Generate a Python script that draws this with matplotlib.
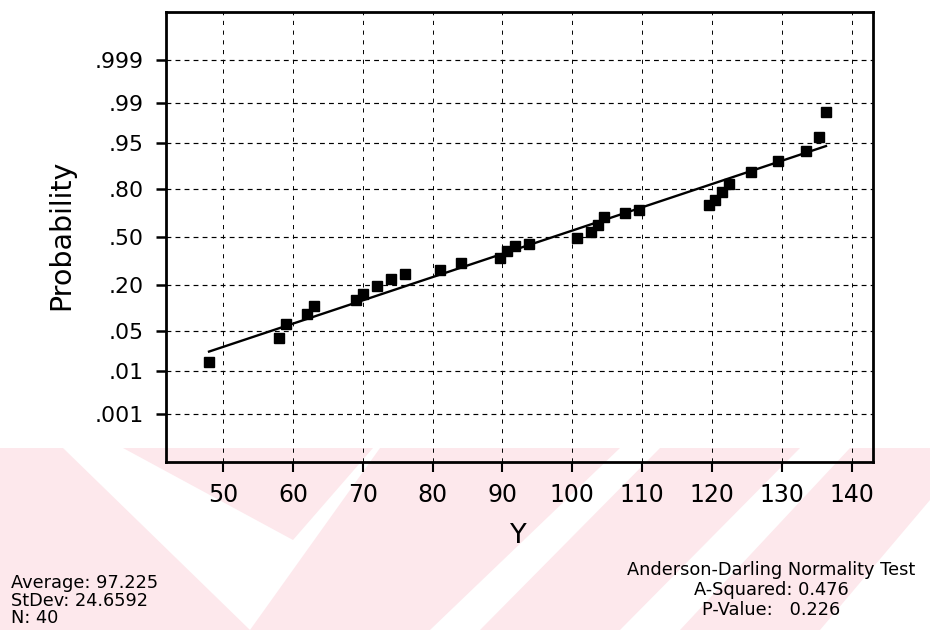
import numpy as np
import matplotlib
matplotlib.use("Agg")
import matplotlib.pyplot as plt
from matplotlib.patches import Polygon
from statistics import NormalDist

# ---- data ----
y_values = [48, 58, 59, 62, 63, 69, 70, 72, 74, 76, 81, 84, 89.7, 90.7, 91.8, 93.8,
            100.7, 102.6, 103.7, 104.5, 107.5, 109.6, 119.6, 120.4, 121.4, 122.4,
            125.5, 129.4, 133.5, 135.3, 136.3]
prob_pct = [1.46, 3.9, 6.4, 9.1, 11.3, 13.7, 16.2, 19.6, 23.4, 25.8, 28.5, 32.5, 35.9,
            40.1, 43.8, 45.4, 49.6, 53.5, 58.3, 63.3, 65.9, 68.4, 71.0, 74.3, 78.1,
            82.1, 87.0, 90.7, 93.3, 96.0, 98.5]
prob_ticks = [0.001, 0.01, 0.05, 0.20, 0.50, 0.80, 0.95, 0.99, 0.999]
prob_tick_labels = [".001", ".01", ".05", ".20", ".50", ".80", ".95", ".99", ".999"]
x_ticks = [50, 60, 70, 80, 90, 100, 110, 120, 130, 140]
average = 97.225
stdev = 24.6592
n_obs = 40
a_squared = 0.476
p_value = 0.226

nd = NormalDist()
def to_z(p):
    return np.array([nd.inv_cdf(v) for v in np.atleast_1d(p)])

W, H = 930, 630
plt.rcParams['lines.scale_dashes'] = False
fig = plt.figure(figsize=(W / 100, H / 100), dpi=100)

# ---- watermark (light pink stripes, drawn behind everything) ----
pink = "#fde8ec"
def fpoly(pts):
    return Polygon([(x / W, 1 - y / H) for x, y in pts], closed=True,
                   transform=fig.transFigure, facecolor=pink, edgecolor='none', zorder=-5)
wm = [
    [(0, 448), (63, 448), (250, 630), (0, 630)],
    [(123, 448), (373, 448), (293, 540)],
    [(380, 448), (620, 448), (430, 630), (250, 630)],
    [(660, 448), (800, 448), (620, 630), (480, 630)],
    [(850, 448), (930, 448), (930, 500), (820, 630), (680, 630)],
]
for pts in wm:
    fig.patches.append(fpoly(pts))

# ---- axes ----
L, R, T, B = 166, 873, 12, 462
ax = fig.add_axes([L / W, 1 - B / H, (R - L) / W, (B - T) / H])
ax.set_zorder(2)
ax.patch.set_alpha(0)

ax.set_xlim(41.84, 143.03)
ax.set_ylim(-3.92, 3.92)

# grid
for xv in x_ticks:
    ax.axvline(xv, color='black', lw=0.7, dashes=(3, 4), zorder=1)
for zv in to_z(prob_ticks):
    ax.axhline(zv, color='black', lw=0.85, dashes=(3.5, 3), zorder=1)

# fitted line
x_line = np.array([min(y_values), max(y_values)])
ax.plot(x_line, (x_line - average) / stdev, color='black', lw=1.7, zorder=3)

# points
ax.plot(y_values, to_z(np.array(prob_pct) / 100), linestyle='none', marker='s',
        ms=7, color='black', zorder=4)

ax.set_xticks(x_ticks)
ax.set_xticklabels([str(v) for v in x_ticks])
ax.set_yticks(to_z(prob_ticks))
ax.set_yticklabels(prob_tick_labels)
ax.tick_params(axis='x', length=7.2, width=1.5, labelsize=17, pad=8, direction='out')
ax.tick_params(axis='y', length=7.2, width=1.8, labelsize=15.8, pad=9, direction='out')
for s in ax.spines.values():
    s.set_linewidth(2.0)

# labels
fig.text(61 / W, 1 - 235 / H, "Probability", rotation=90, ha='center', va='center', fontsize=20.5)
fig.text(518 / W, 1 - 543 / H, "Y", ha='center', va='baseline', fontsize=19.5)

# stats text (baseline of the last line is the anchor)
fs = 12.8
fig.text(11 / W, 1 - 623 / H,
         f"Average: {average}\nStDev: {stdev}\nN: {n_obs}",
         ha='left', va='baseline', fontsize=fs, linespacing=0.96)
fig.text(771 / W, 1 - 615 / H,
         f"Anderson-Darling Normality Test\nA-Squared: {a_squared}\nP-Value:   {p_value}",
         ha='center', va='baseline', multialignment='center', fontsize=fs, linespacing=1.15)

fig.savefig("out.png", dpi=100)
